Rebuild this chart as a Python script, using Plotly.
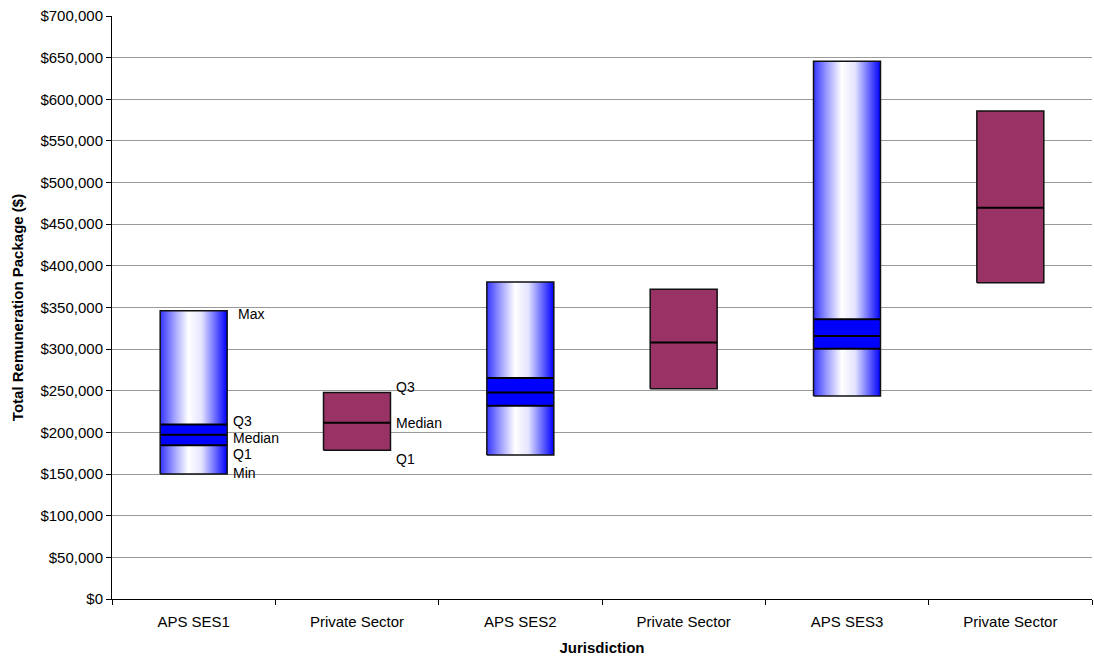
import plotly.graph_objects as go

categories = ["APS SES1", "Private Sector", "APS SES2", "Private Sector", "APS SES3", "Private Sector"]
kind = ["aps", "private", "aps", "private", "aps", "private"]
max_vals = [346000, 248000, 380500, 371800, 645800, 585800]
q3_vals = [209500, 248000, 265500, 371800, 335800, 585800]
median_vals = [197300, 211500, 248000, 308000, 315800, 469800]
q1_vals = [184500, 178500, 232000, 252500, 300500, 379800]
min_vals = [150000, 178500, 172800, 252500, 243700, 379800]

y_ticks = list(range(0, 700001, 50000))
y_ticktext = ["${:,}".format(v) for v in y_ticks]

HALF = 0.205
BLUE = "#0000ff"
MAROON = "#993366"
FONT = "Liberation Sans, Arial, sans-serif"

fig = go.Figure()


def rect(i, lo, hi):
    x0, x1 = i - HALF, i + HALF
    return [x0, x1, x1, x0, x0], [lo, lo, hi, hi, lo]


def hline(i, y):
    return [i - HALF, i + HALF], [y, y]


for i, k in enumerate(kind):
    if k == "aps":
        xs, ys = rect(i, min_vals[i], max_vals[i])
        fig.add_trace(go.Scatter(
            x=xs, y=ys, mode="lines", fill="toself",
            line=dict(width=0),
            fillgradient=dict(type="horizontal",
                              colorscale=[[0, "#3535ff"], [0.2, "#9b9bff"], [0.42, "#ffffff"],
                                          [0.62, "#e4e4ff"], [1, "#0000ff"]]),
            hoverinfo="skip", showlegend=False))
        xs, ys = rect(i, q1_vals[i], q3_vals[i])
        fig.add_trace(go.Scatter(
            x=xs, y=ys, mode="lines", fill="toself", fillcolor=BLUE,
            line=dict(width=0), hoverinfo="skip", showlegend=False))
        for v in (q1_vals[i], median_vals[i], q3_vals[i]):
            lx, ly = hline(i, v)
            fig.add_trace(go.Scatter(x=lx, y=ly, mode="lines",
                                     line=dict(color="black", width=2),
                                     hoverinfo="skip", showlegend=False))
        xs, ys = rect(i, min_vals[i], max_vals[i])
        fig.add_trace(go.Scatter(x=xs, y=ys, mode="lines",
                                 line=dict(color="#111111", width=1.5),
                                 hoverinfo="skip", showlegend=False))
    else:
        xs, ys = rect(i, q1_vals[i], q3_vals[i])
        fig.add_trace(go.Scatter(
            x=xs, y=ys, mode="lines", fill="toself", fillcolor=MAROON,
            line=dict(color="#111111", width=1.5),
            hoverinfo="skip", showlegend=False))
        lx, ly = hline(i, median_vals[i])
        fig.add_trace(go.Scatter(x=lx, y=ly, mode="lines",
                                 line=dict(color="black", width=2),
                                 hoverinfo="skip", showlegend=False))

# Labels on first APS box and first private box
ann_font = dict(family=FONT, size=14, color="black")
labels_aps = [("Max", max_vals[0], -3, 9), ("Q3", q3_vals[0], 4, 4), ("Median", median_vals[0], -3, 4),
              ("Q1", q1_vals[0], -9, 4), ("Min", min_vals[0], 1, 4)]
for text, v, ys, xs in labels_aps:
    fig.add_annotation(x=0 + HALF, y=v, text=text, showarrow=False, xanchor="left",
                       yanchor="middle", xshift=xs, yshift=ys, font=ann_font)
labels_priv = [("Q3", q3_vals[1], 5), ("Median", median_vals[1], 0), ("Q1", q1_vals[1], -9)]
for text, v, ys in labels_priv:
    fig.add_annotation(x=1 + HALF, y=v, text=text, showarrow=False, xanchor="left",
                       yanchor="middle", xshift=4, yshift=ys, font=ann_font)

fig.update_layout(
    width=1094, height=657,
    margin=dict(l=112, r=2, t=16, b=58),
    paper_bgcolor="white", plot_bgcolor="white",
    font=dict(family=FONT, size=15, color="black"),
    showlegend=False,
    xaxis=dict(
        range=[-0.5, 5.5],
        tickmode="array", tickvals=list(range(len(categories))), ticktext=categories,
        ticks="outside", ticklen=9, tickcolor="rgba(0,0,0,0)",
        tickfont=dict(size=15),
        showgrid=False, zeroline=False,
        showline=True, linecolor="black", linewidth=1,
        minor=dict(tickmode="array", tickvals=[i - 0.5 for i in range(len(categories) + 1)],
                   ticks="outside", ticklen=5, tickcolor="black", showgrid=False),
        title=dict(text="<b>Jurisdiction</b>", font=dict(size=15), standoff=13),
        fixedrange=True,
    ),
    yaxis=dict(
        range=[0, 700000],
        tickmode="array", tickvals=y_ticks, ticktext=y_ticktext,
        ticks="outside", ticklen=5, tickcolor="black",
        tickfont=dict(size=15),
        showgrid=True, gridcolor="#9a9a9a", gridwidth=1,
        zeroline=False, showline=True, linecolor="black", linewidth=1,
        title=dict(text="<b>Total Remuneration Package ($)</b>", font=dict(size=15), standoff=13),
        fixedrange=True,
    ),
)

fig.write_html("out.html")
